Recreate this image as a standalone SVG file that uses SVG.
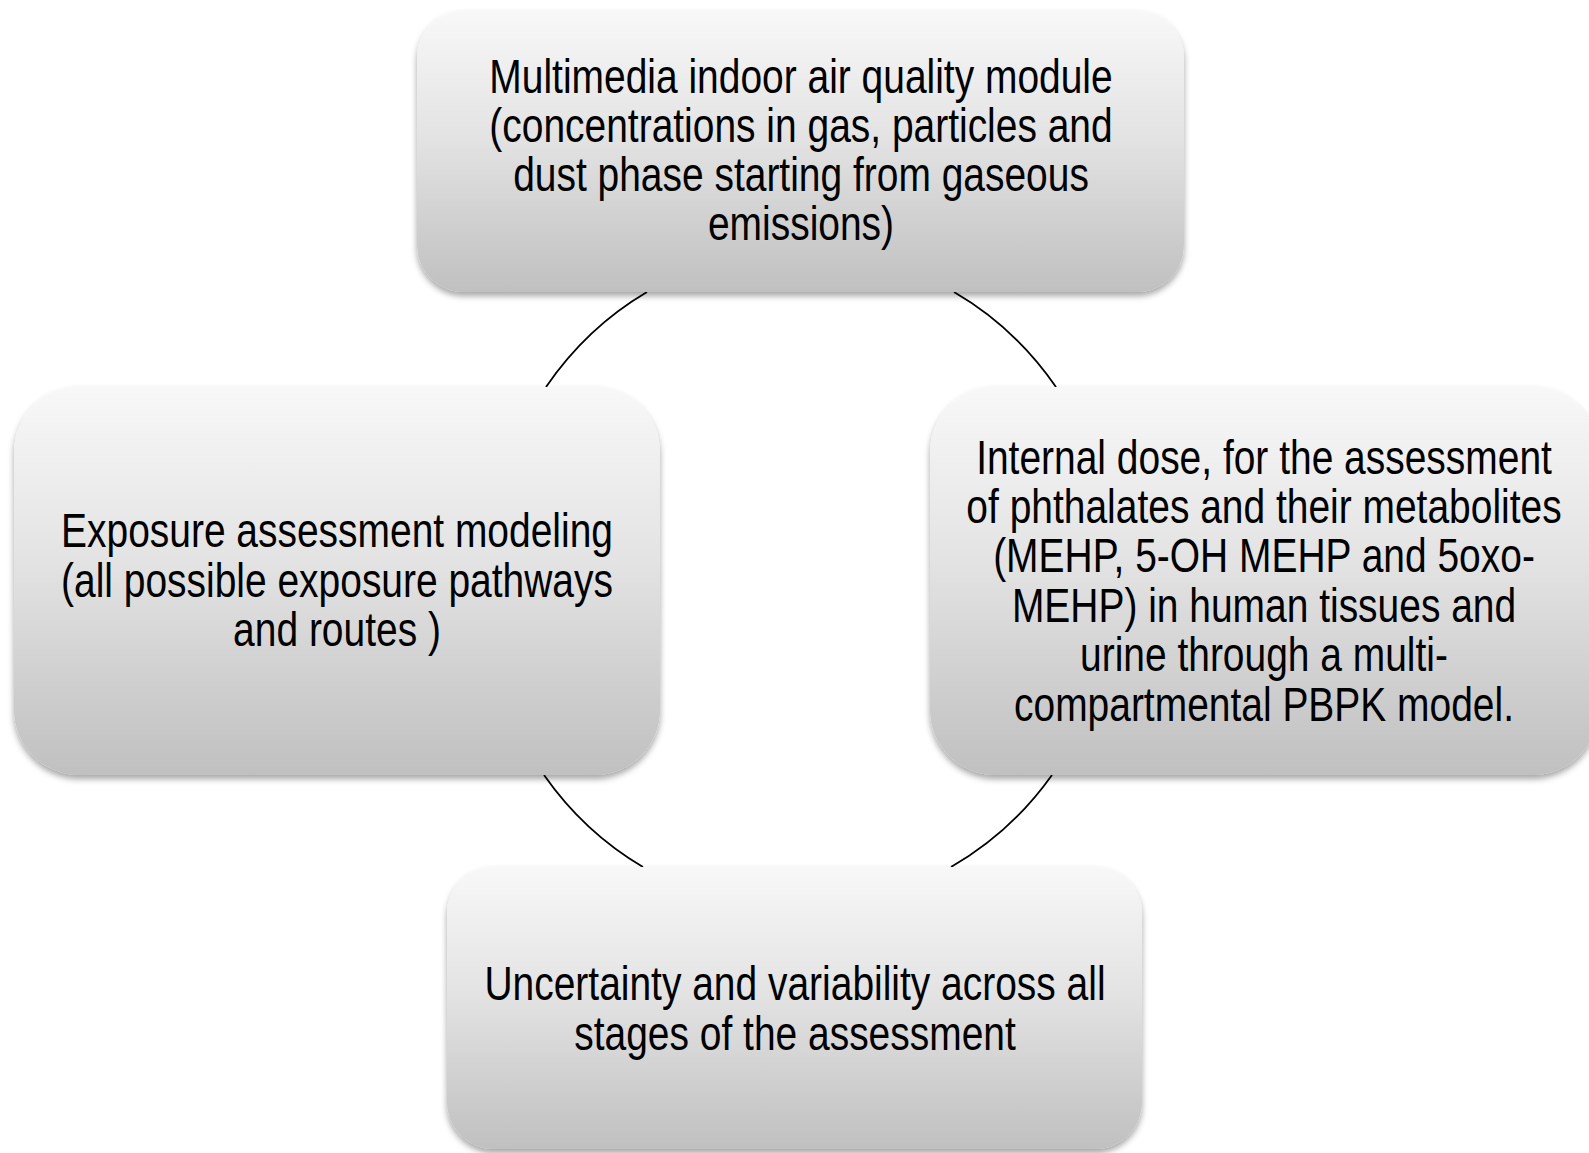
<svg xmlns="http://www.w3.org/2000/svg" width="1589" height="1153" viewBox="0 0 1589 1153">
<style>
.box{fill:url(#g);filter:url(#sh)}
.t{font-family:"Liberation Sans",Arial,sans-serif;font-size:47.5px;fill:#000;text-anchor:middle}
.c{fill:none;stroke:#000;stroke-width:1.8}
</style>
<defs>
<linearGradient id="g" x1="0" y1="0" x2="0" y2="1">
<stop offset="0" stop-color="#f8f8f8"/>
<stop offset="0.45" stop-color="#e3e3e3"/>
<stop offset="1" stop-color="#c0c0c0"/>
</linearGradient>
<filter id="sh" x="-10%" y="-10%" width="120%" height="125%">
<feDropShadow dx="0" dy="4" stdDeviation="3" flood-color="#000" flood-opacity="0.35"/>
</filter>
</defs>
<rect width="1589" height="1153" fill="#fff"/>
<g id="connectors">
<path class="c" d="M647 292 A312 330 0 0 0 546 387"/>
<path class="c" d="M954 292 A312 330 0 0 1 1056 387"/>
<path class="c" d="M1052 775 A312 330 0 0 1 951 867"/>
<path class="c" d="M643 867 A312 330 0 0 1 544 775"/>
</g>
<g id="node-top">
<rect class="box" x="417" y="11" width="767" height="281" rx="47" ry="47"/>
<g transform="translate(801 0) scale(0.82 1)">
<text class="t" x="0" y="93">Multimedia indoor air quality module</text>
<text class="t" x="0" y="142">(concentrations in gas, particles and</text>
<text class="t" x="0" y="191">dust phase starting from gaseous</text>
<text class="t" x="0" y="240">emissions)</text>
</g>
</g>
<g id="node-left">
<rect class="box" x="14" y="387" width="646" height="388" rx="65" ry="65"/>
<g transform="translate(337 0) scale(0.82 1)">
<text class="t" x="0" y="547">Exposure assessment modeling</text>
<text class="t" x="0" y="597">(all possible exposure pathways</text>
<text class="t" x="0" y="646">and routes )</text>
</g>
</g>
<g id="node-right">
<rect class="box" x="930" y="387" width="668" height="388" rx="65" ry="65"/>
<g transform="translate(1264 0) scale(0.82 1)">
<text class="t" x="0" y="474">Internal dose, for the assessment</text>
<text class="t" x="0" y="523">of phthalates and their metabolites</text>
<text class="t" x="0" y="572">(MEHP, 5-OH MEHP and 5oxo-</text>
<text class="t" x="0" y="622">MEHP) in human tissues and</text>
<text class="t" x="0" y="671">urine through a multi-</text>
<text class="t" x="0" y="721">compartmental PBPK model.</text>
</g>
</g>
<g id="node-bottom">
<rect class="box" x="447" y="867" width="695" height="282" rx="47" ry="47"/>
<g transform="translate(795 0) scale(0.82 1)">
<text class="t" x="0" y="1000">Uncertainty and variability across all</text>
<text class="t" x="0" y="1050">stages of the assessment</text>
</g>
</g>
</svg>
